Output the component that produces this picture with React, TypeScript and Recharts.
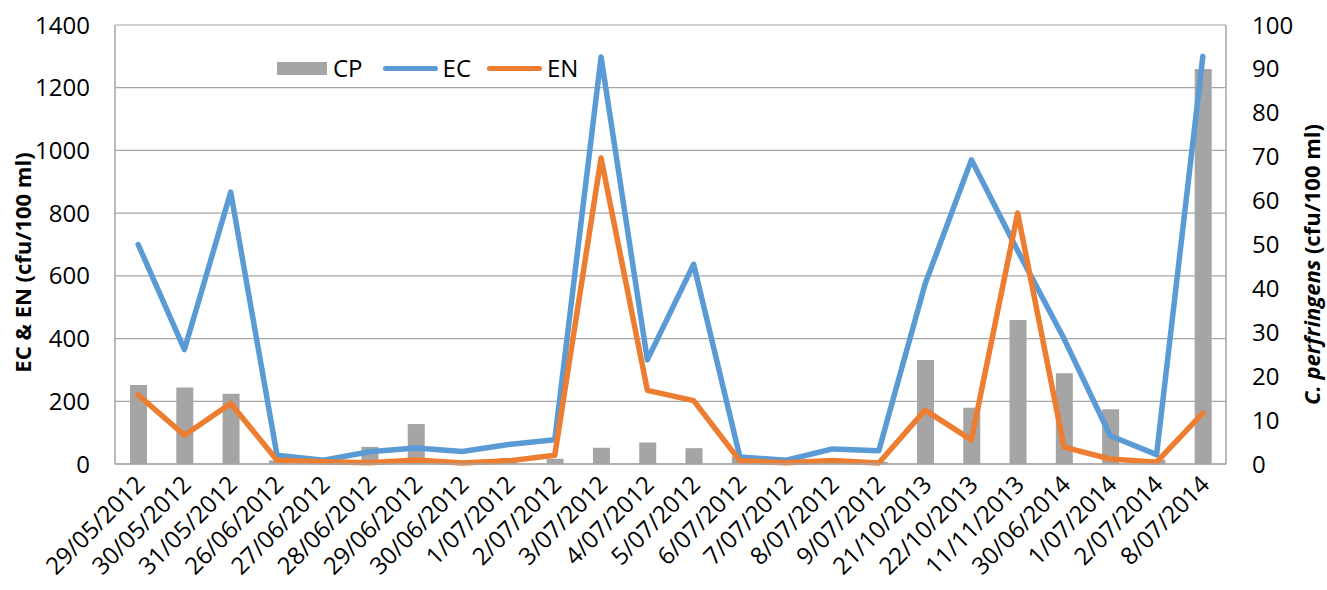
import React from 'react';
import { ComposedChart, Bar, Line, XAxis, YAxis, CartesianGrid } from 'recharts';

const dates = ['29/05/2012','30/05/2012','31/05/2012','26/06/2012','27/06/2012','28/06/2012','29/06/2012','30/06/2012','1/07/2012','2/07/2012','3/07/2012','4/07/2012','5/07/2012','6/07/2012','7/07/2012','8/07/2012','9/07/2012','21/10/2013','22/10/2013','11/11/2013','30/06/2014','1/07/2014','2/07/2014','8/07/2014'];
const ecValues = [700, 365, 867, 28, 12, 39, 51, 40, 62, 77, 1298, 332, 637, 22, 12, 48, 42, 574, 970, 680, 400, 90, 30, 1300];
const enValues = [220, 92, 193, 12, 7, 4, 13, 3, 10, 28, 976, 235, 202, 10, 4, 11, 3, 172, 77, 800, 54, 16, 6, 162];
const cpValues = [18, 17.4, 16, 0.8, 0, 3.9, 9.1, 0, 1.4, 1.2, 3.7, 4.9, 3.6, 1.7, 0, 0.3, 0.5, 23.7, 12.8, 32.8, 20.7, 12.5, 1, 90];
const leftTicks = [0, 200, 400, 600, 800, 1000, 1200, 1400];
const rightTicks = [0, 10, 20, 30, 40, 50, 60, 70, 80, 90, 100];
const seriesNames = ['CP', 'EC', 'EN'];
const seriesColors = ['#a5a5a5', '#5b9bd5', '#ed7d31'];

const data = dates.map((d, i) => ({ date: d, CP: cpValues[i], EC: ecValues[i], EN: enValues[i] }));

const FONT = '"Open Sans", sans-serif';
const GRID = '#a6a6a6';

const XTick = (props: any) => {
  const { x, y, payload } = props;
  const ax = x + 8;
  const ay = y + 22;
  return (
    <text x={ax} y={ay} transform={`rotate(-45 ${ax} ${ay})`} textAnchor="end" fontSize={24} fontFamily={FONT} fill="#000">
      {payload.value}
    </text>
  );
};

const LeftTitle = (props: any) => {
  const vb = props.viewBox || { x: 0, y: 25, width: 115, height: 439 };
  const x = vb.x + 31;
  const y = vb.y + vb.height / 2 + 18;
  return (
    <text x={x} y={y} transform={`rotate(-90 ${x} ${y})`} textAnchor="middle" fontSize={22} fontWeight="bold" fontFamily={FONT} fill="#000">
      EC &amp; EN (cfu/100 ml)
    </text>
  );
};

const RightTitle = (props: any) => {
  const vb = props.viewBox || { x: 1226, y: 25, width: 101, height: 439 };
  const x = vb.x + 94;
  const y = vb.y + vb.height / 2 + 20;
  return (
    <text x={x} y={y} transform={`rotate(-90 ${x} ${y})`} textAnchor="middle" fontSize={22} fontWeight="bold" fontFamily={FONT} fill="#000">
      <tspan fontStyle="italic">C. perfringens</tspan>
      <tspan> (cfu/100 ml)</tspan>
    </text>
  );
};

const LegendBox = () => (
  <div style={{ position: 'absolute', left: 277, top: 52, display: 'flex', alignItems: 'center', fontFamily: FONT, fontSize: 24, color: '#000', whiteSpace: 'nowrap', lineHeight: '32px' }}>
    <span style={{ display: 'inline-block', width: 50, height: 13, background: seriesColors[0], marginRight: 6 }} />
    <span style={{ marginRight: 20 }}>{seriesNames[0]}</span>
    <span style={{ display: 'inline-block', width: 55, height: 5, borderRadius: 3, background: seriesColors[1], marginRight: 5 }} />
    <span style={{ marginRight: 16 }}>{seriesNames[1]}</span>
    <span style={{ display: 'inline-block', width: 55, height: 5, borderRadius: 3, background: seriesColors[2], marginRight: 5 }} />
    <span>{seriesNames[2]}</span>
  </div>
);

export default function App() {
  return (
    <div style={{ position: 'absolute', left: 0, top: 0, width: 1327, height: 590, background: '#fff' }}>
      <ComposedChart width={1327} height={590} data={data} margin={{ top: 25, right: 0, bottom: 6, left: 0 }}>
        <CartesianGrid yAxisId="left" vertical={false} stroke={GRID} strokeWidth={1.2} />
        <XAxis dataKey="date" interval={0} height={120} tickLine={false} tickSize={0} tickMargin={0} axisLine={{ stroke: GRID, strokeWidth: 1.5 }} tick={<XTick />} />
        <YAxis yAxisId="left" domain={[0, 1400]} ticks={leftTicks} width={115} tickLine={false} tickSize={0} tickMargin={25}
          axisLine={{ stroke: GRID, strokeWidth: 1.5 }} tick={{ fontSize: 24, fontFamily: FONT, fill: '#000' }}
          label={(p: any) => <LeftTitle {...p} />} />
        <YAxis yAxisId="right" orientation="right" domain={[0, 100]} ticks={rightTicks} width={101} tickLine={false} tickSize={0} tickMargin={26}
          axisLine={{ stroke: GRID, strokeWidth: 1.5 }} tick={{ fontSize: 24, fontFamily: FONT, fill: '#000' }}
          label={(p: any) => <RightTitle {...p} />} />
        <Bar yAxisId="right" dataKey="CP" fill={seriesColors[0]} barSize={17} isAnimationActive={false} />
        <Line yAxisId="left" type="linear" dataKey="EC" stroke={seriesColors[1]} strokeWidth={5.5} dot={false} strokeLinecap="round" strokeLinejoin="round" isAnimationActive={false} />
        <Line yAxisId="left" type="linear" dataKey="EN" stroke={seriesColors[2]} strokeWidth={5.5} dot={false} strokeLinecap="round" strokeLinejoin="round" isAnimationActive={false} />
      </ComposedChart>
      <LegendBox />
    </div>
  );
}
